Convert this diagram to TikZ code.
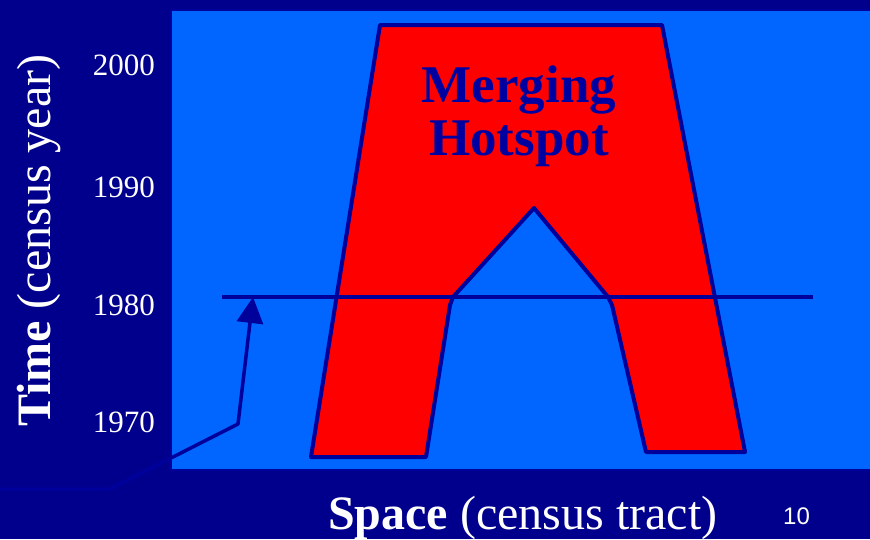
\documentclass[tikz,border=0pt]{standalone}
\usepackage{fontspec}
\setmainfont{Liberation Serif}
\newfontfamily\numsans{Liberation Sans}
\usetikzlibrary{arrows.meta}
\definecolor{bgnavy}{RGB}{0,0,140}
\definecolor{linenavy}{RGB}{0,0,155}
\definecolor{field}{RGB}{0,102,255}
\definecolor{hot}{RGB}{255,0,0}
\definecolor{hottext}{RGB}{0,0,160}
\begin{document}
\begin{tikzpicture}[x=1pt,y=-1pt,
  yearlbl/.style={anchor=base east,text=white,font=\fontsize{31}{31}\selectfont,inner sep=0pt},
  axislbl/.style={text=white,font=\fontsize{48}{48}\selectfont,inner sep=0pt},
  outl/.style={draw=linenavy,line width=4pt,line join=round}]
\fill[bgnavy] (0,0) rectangle (870,539);
\useasboundingbox (0,0) rectangle (870,539);
% field
\filldraw[fill=field,draw=linenavy,line width=2pt] (171,10) rectangle (872,470);
% hotspot shape
\filldraw[outl,fill=hot] (311,457) -- (380,25) -- (662,25) -- (745,452) -- (646,452) -- (612,305) -- (608,297) -- (534,208) -- (453,297) -- (450,305) -- (426,457) -- cycle;
% 1980 line
\coordinate (l1) at (222,297);
\coordinate (l2) at (813,297);
\draw[draw=linenavy,line width=4pt] (l1) -- (l2);
% arrow
\coordinate (a0) at (0,489);
\coordinate (a1) at (110,489);
\coordinate (a2) at (238,424);
\coordinate (a3) at (253,297);
\draw[draw=linenavy,line width=3.5pt,line join=round,-{Triangle[length=26pt,width=26pt]}] (a0) -- (a1) -- (a2) -- (a3);
% labels
\node[yearlbl] (y2000) at (155,75) {2000};
\node[yearlbl] (y1990) at (155,197) {1990};
\node[yearlbl] (y1980) at (155,315) {1980};
\node[yearlbl] (y1970) at (155,432) {1970};
\node[axislbl,anchor=base west,rotate=90] (ylab) at (50,427) {\textbf{Time} (census year)};
\node[axislbl,anchor=base west] (xlab) at (328,529) {\textbf{Space} (census tract)};
\node[anchor=base west,text=white,font=\numsans\fontsize{24}{24}\selectfont,inner sep=0pt] (pg) at (783,524) {10};
\node[text=hottext,font=\bfseries\fontsize{53}{53}\selectfont,align=center,inner sep=0pt,anchor=base] (hs) at (519,155) {Merging\\Hotspot};
\end{tikzpicture}
\end{document}
